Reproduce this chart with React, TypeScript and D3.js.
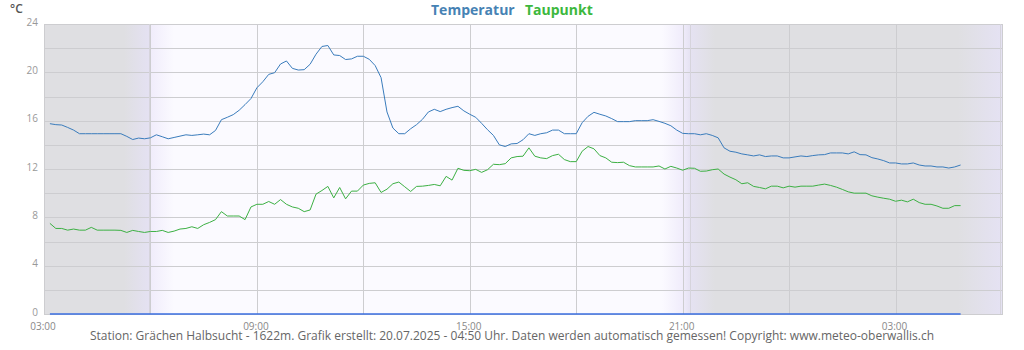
import React, { useEffect, useRef } from 'react';
import * as d3 from 'd3';

// Messwerte alle 10 Minuten, ab 19.07.2025 03:10 bis 20.07.2025 04:50
const firstReading = new Date(2025, 6, 19, 3, 10);
const stepMinutes = 10;

const temperatur = [
  15.75, 15.67, 15.64, 15.44, 15.22, // 03:10 - 03:50
  14.92, 14.92, 14.92, 14.92, 14.92, 14.92, // 04
  14.92, 14.92, 14.7, 14.44, 14.56, 14.5, // 05
  14.58, 14.83, 14.67, 14.5, 14.61, 14.72, // 06
  14.83, 14.78, 14.83, 14.89, 14.83, 15.19, // 07
  16.08, 16.28, 16.5, 16.86, 17.33, 17.83, // 08
  18.72, 19.22, 19.83, 19.97, 20.69, 20.94, // 09
  20.33, 20.19, 20.22, 20.67, 21.5, 22.14, // 10
  22.22, 21.44, 21.39, 21.06, 21.11, 21.33, // 11
  21.33, 21.08, 20.56, 19.56, 16.72, 15.39, // 12
  14.92, 14.92, 15.33, 15.67, 16.11, 16.72, // 13
  16.94, 16.75, 16.94, 17.08, 17.19, 16.81, // 14
  16.53, 16.28, 15.78, 15.25, 14.78, 14.0, // 15
  13.86, 14.08, 14.11, 14.42, 14.92, 14.78, // 16
  14.92, 15.0, 15.22, 15.22, 14.92, 14.92, // 17
  14.92, 15.83, 16.36, 16.69, 16.53, 16.39, // 18
  16.17, 15.92, 15.92, 15.92, 16.0, 16.0, // 19
  16.0, 16.08, 15.94, 15.78, 15.58, 15.22, // 20
  14.95, 14.92, 14.92, 14.83, 14.92, 14.78, // 21
  14.58, 13.75, 13.47, 13.39, 13.25, 13.17, // 22
  13.08, 13.17, 13.03, 13.08, 13.08, 12.92, // 23
  12.92, 13.0, 13.08, 13.03, 13.11, 13.17, // 00
  13.19, 13.33, 13.33, 13.33, 13.25, 13.42, // 01
  13.19, 13.17, 12.94, 12.83, 12.69, 12.5, // 02
  12.5, 12.42, 12.42, 12.5, 12.33, 12.25, // 03
  12.25, 12.17, 12.17, 12.08, 12.17, 12.33 // 04
];

const taupunkt = [
  7.5, 7.08, 7.08, 6.94, 7.03,
  6.94, 6.94, 7.17, 6.94, 6.94, 6.94,
  6.94, 6.92, 6.75, 6.92, 6.83, 6.75,
  6.83, 6.83, 6.92, 6.75, 6.86, 7.03,
  7.08, 7.22, 7.08, 7.39, 7.58, 7.81,
  8.47, 8.11, 8.11, 8.11, 7.81, 8.86,
  9.08, 9.08, 9.31, 9.08, 9.47, 9.08,
  8.86, 8.75, 8.47, 8.61, 9.92, 10.22,
  10.56, 9.61, 10.47, 9.53, 10.17, 10.17,
  10.67, 10.81, 10.86, 10.06, 10.33, 10.78,
  10.92, 10.53, 10.14, 10.56, 10.58, 10.64,
  10.72, 10.61, 11.39, 11.08, 12.06, 11.89,
  11.86, 11.97, 11.72, 11.94, 12.39, 12.36,
  12.44, 12.92, 13.03, 13.06, 13.75, 13.06,
  12.92, 12.86, 13.11, 13.22, 12.78, 12.61,
  12.61, 13.47, 13.86, 13.67, 13.11, 12.92,
  12.56, 12.53, 12.56, 12.28, 12.17, 12.17,
  12.17, 12.17, 12.25, 12.0, 12.22, 12.08,
  11.9, 12.08, 12.06, 11.81, 11.83, 11.94,
  12.0, 11.58, 11.33, 11.11, 10.78, 10.86,
  10.56, 10.47, 10.36, 10.58, 10.58, 10.44,
  10.58, 10.5, 10.58, 10.58, 10.58, 10.67,
  10.75, 10.64, 10.5, 10.31, 10.11, 10.0,
  10.0, 10.0, 9.78, 9.67, 9.58, 9.5,
  9.33, 9.42, 9.28, 9.5, 9.22, 9.08,
  9.08, 8.94, 8.75, 8.75, 8.97, 8.97
];

// Niederschlag (blaue Linie am Boden)
const niederschlag = [
  0, 0, 0, 0, 0,
  0, 0, 0, 0, 0, 0, 0, 0, 0, 0, 0, 0, 0, 0, 0, 0, 0, 0,
  0, 0, 0, 0, 0, 0, 0, 0, 0, 0, 0, 0, 0, 0, 0, 0, 0, 0,
  0, 0, 0, 0, 0, 0, 0, 0, 0, 0, 0, 0, 0, 0, 0, 0, 0, 0,
  0, 0, 0, 0, 0, 0, 0, 0, 0, 0, 0, 0, 0, 0, 0, 0, 0, 0,
  0, 0, 0, 0, 0, 0, 0, 0, 0, 0, 0, 0, 0, 0, 0, 0, 0, 0,
  0, 0, 0, 0, 0, 0, 0, 0, 0, 0, 0, 0, 0, 0, 0, 0, 0, 0,
  0, 0, 0, 0, 0, 0, 0, 0, 0, 0, 0, 0, 0, 0, 0, 0, 0, 0,
  0, 0, 0, 0, 0, 0, 0, 0, 0, 0, 0, 0, 0, 0, 0, 0, 0, 0,
  0, 0, 0, 0, 0, 0
];

const yTicks = [0, 4, 8, 12, 16, 20, 24];
const seriesNames = ['Temperatur', 'Taupunkt'];
const sunEvents = [new Date(2025, 6, 19, 5, 57), new Date(2025, 6, 19, 21, 13), new Date(2025, 6, 20, 5, 57)];
const footerText = 'Station: Grächen Halbsucht - 1622m. Grafik erstellt: 20.07.2025 - 04:50 Uhr. Daten werden automatisch gemessen! Copyright: www.meteo-oberwallis.ch';

const W = 1024;
const H = 350;
const font = "'Open Sans', 'DejaVu Sans', sans-serif";

const App = () => {
  const svgRef = useRef(null);

  useEffect(() => {
    const svg = d3.select(svgRef.current);
    svg.selectAll('*').remove();

    const left = 44, right = 1002, top = 24, bottom = 314;
    const t0 = new Date(2025, 6, 19, 3, 0);
    const t1 = new Date(2025, 6, 20, 6, 0);
    const x = d3.scaleTime().domain([t0, t1]).range([left, right]);
    const y = d3.scaleLinear().domain([0, 24]).range([bottom, top]);

    const timeAt = (i) => d3.timeMinute.offset(firstReading, i * stepMinutes);
    const at = (h, m, dayOff = 0) => new Date(2025, 6, 19 + dayOff, h, m);

    // hintergrund tag / nacht
    const night = '#dfdfe2', twi = '#e4e1f2', day = '#fbfaff';
    const stops = [
      [t0, night], [at(5, 15), night], [sunEvents[0], twi], [at(5, 59), '#f0ecfb'],
      [at(6, 40), day], [at(20, 25), day], [at(21, 0), '#f0ecfb'], [sunEvents[1], '#e5e2f2'],
      [at(21, 55), night], [at(4, 45, 1), night], [t1, '#e5e2f3']
    ];
    const grad = svg.append('defs').append('linearGradient')
      .attr('id', 'bg').attr('gradientUnits', 'userSpaceOnUse')
      .attr('x1', left).attr('x2', right).attr('y1', 0).attr('y2', 0);
    stops.forEach(([t, c]) => {
      grad.append('stop').attr('offset', (x(t) - left) / (right - left)).attr('stop-color', c);
    });
    svg.append('rect')
      .attr('x', left).attr('y', top).attr('width', right - left).attr('height', bottom - top)
      .attr('fill', 'url(#bg)');

    // gitter
    const hGrid = d3.range(0, 25, 2);
    svg.append('g').selectAll('line').data(hGrid).enter().append('line')
      .attr('x1', left).attr('x2', right + 1)
      .attr('y1', d => Math.round(y(d)) + 0.5).attr('y2', d => Math.round(y(d)) + 0.5)
      .attr('stroke', '#cdcdd0').attr('stroke-width', 1);
    const vGrid = d3.timeHour.every(3).range(t0, d3.timeHour.offset(t1, 1));
    svg.append('g').selectAll('line').data(vGrid).enter().append('line')
      .attr('x1', d => Math.round(x(d)) + 0.5).attr('x2', d => Math.round(x(d)) + 0.5)
      .attr('y1', top).attr('y2', bottom)
      .attr('stroke', '#cdcdd0').attr('stroke-width', 1);
    svg.append('g').selectAll('line').data(sunEvents).enter().append('line')
      .attr('x1', d => Math.round(x(d)) + 0.5).attr('x2', d => Math.round(x(d)) + 0.5)
      .attr('y1', top).attr('y2', bottom)
      .attr('stroke', '#d6d4dc').attr('stroke-width', 1);
    svg.append('line')
      .attr('x1', left + 0.5).attr('x2', left + 0.5).attr('y1', top).attr('y2', bottom)
      .attr('stroke', '#cdcdd0');

    // achsenbeschriftung
    svg.append('g').selectAll('text').data(yTicks).enter().append('text')
      .attr('x', 38).attr('y', d => y(d) + 1.5)
      .attr('text-anchor', 'end')
      .style('font-family', font).style('font-size', '10px').attr('fill', '#999')
      .text(d => d);
    // beschriftung alle 6 stunden ab 03:00
    const xTicks = vGrid.filter((d, i) => i % 2 === 0 && d < t1);
    svg.append('g').selectAll('text').data(xTicks).enter().append('text')
      .attr('x', d => x(d) - 1).attr('y', 330)
      .attr('text-anchor', 'middle')
      .style('font-family', font).style('font-size', '10px').attr('fill', '#888')
      .text(d => d3.timeFormat('%H:%M')(d));
    svg.append('text')
      .attr('x', 10).attr('y', 13)
      .style('font-family', font).style('font-size', '12px').style('font-weight', 600)
      .attr('fill', '#555').text('°C');

    // linien
    const line = d3.line().x((d, i) => x(timeAt(i))).y(d => y(d));
    svg.append('path').datum(niederschlag).attr('d', line)
      .attr('fill', 'none').attr('stroke', '#3a6ee0').attr('stroke-width', 1.6);
    svg.append('path').datum(taupunkt).attr('d', line)
      .attr('fill', 'none').attr('stroke', '#3cb043').attr('stroke-width', 1);
    svg.append('path').datum(temperatur).attr('d', line)
      .attr('fill', 'none').attr('stroke', '#3a7cbc').attr('stroke-width', 1);

    // legende
    const legendColors = ['#4682b4', '#3db83d'];
    const legendX = [431, 525];
    svg.append('g').selectAll('text').data(seriesNames).enter().append('text')
      .attr('x', (d, i) => legendX[i]).attr('y', 15)
      .style('font-family', font).style('font-size', '14px').style('font-weight', 'bold')
      .attr('fill', (d, i) => legendColors[i])
      .text(d => d);

    svg.append('text')
      .attr('x', W / 2).attr('y', 340)
      .attr('text-anchor', 'middle')
      .style('font-family', font).style('font-size', '12px')
      .attr('fill', '#666').text(footerText);
  }, []);

  return (
    <svg ref={svgRef} width={W} height={H}
      style={{ position: 'absolute', left: 0, top: 0, background: 'white' }} />
  );
};

export default App;
